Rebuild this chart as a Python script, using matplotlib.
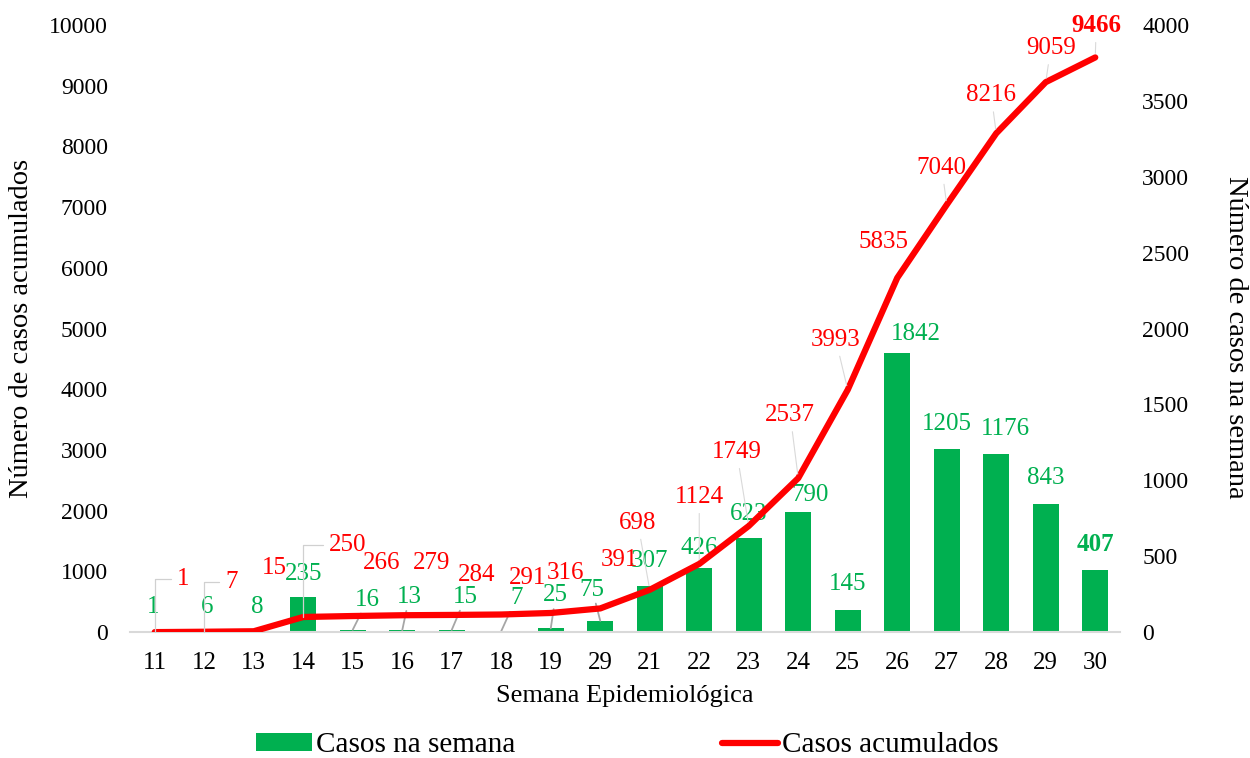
import matplotlib
matplotlib.use("Agg")
import matplotlib.pyplot as plt
from matplotlib.patches import Patch
from matplotlib.lines import Line2D

plt.rcParams['font.family'] = ['Liberation Serif', 'DejaVu Serif']

# data
semanas = ['11', '12', '13', '14', '15', '16', '17', '18', '19', '29',
           '21', '22', '23', '24', '25', '26', '27', '28', '29', '30']
casos_semana = [1, 6, 8, 235, 16, 13, 15, 7, 25, 75,
                307, 426, 623, 790, 145, 1842, 1205, 1176, 843, 407]
casos_acumulados = [1, 7, 15, 250, 266, 279, 284, 291, 316, 391,
                    698, 1124, 1749, 2537, 3993, 5835, 7040, 8216, 9059, 9466]

GREEN = '#00B050'
RED = '#FF0000'

# label offsets in pixels (dx, dy up) and leader style
off_red = [(28, 53), (27, 50), (21, 63), (44, 72), (29, 53), (29, 52), (25, 40),
           (26, 37), (15, 40), (19, 48), (-12, 67), (0, 67), (-12, 74), (-8, 63),
           (-12, 50), (-14, 36), (-5, 37), (-5, 38), (5, 34), (1, 32)]
lead_red = {0: 'elbow', 1: 'elbow', 3: 'elbow', 10: 'line', 11: 'line', 12: 'line',
            13: 'line', 14: 'line', 16: 'line', 17: 'line', 18: 'line', 19: 'line'}
off_green = [(-2, 25), (3, 24), (4, 24), (0, 23), (15, 30), (7, 33), (14, 33),
             (15, 33), (5, 33), (-8, 31), (0, 25), (0, 20), (0, 24), (12, 17),
             (0, 26), (19, 19), (0, 25), (9, 25), (0, 26), (0, 26)]
lead_green = [4, 5, 6, 7, 8, 9]

fig = plt.figure(figsize=(12.5, 7.58), dpi=100)
ax = fig.add_axes([0.104, 0.166, 0.792, 0.801])
ax2 = ax.twinx()

x = list(range(len(semanas)))

ax2.bar(x, casos_semana, width=0.53, color=GREEN)
ax.plot(x, casos_acumulados, color=RED, lw=4.5, solid_capstyle='round', zorder=3)

ax.set_zorder(ax2.get_zorder() + 1)
ax.patch.set_visible(False)

ax.set_xlim(-0.5, 19.5)
ax.set_ylim(0, 10000)
ax2.set_ylim(0, 4000)
ax.set_yticks(range(0, 10001, 1000))
ax2.set_yticks(range(0, 4001, 500))
ax.set_xticks(x)
ax.set_xticklabels(semanas)

for a in (ax, ax2):
    for s in a.spines.values():
        s.set_visible(False)
    a.tick_params(length=0, labelsize=17)
ax.spines['bottom'].set_visible(True)
ax.spines['bottom'].set_color('#D9D9D9')
ax.spines['bottom'].set_linewidth(1.5)
ax.tick_params(axis='x', pad=14, labelsize=18)
ax.tick_params(axis='y', pad=16)
ax2.tick_params(axis='y', pad=16)

ax.set_xlabel('Semana Epidemiológica', fontsize=19)
ax.xaxis.set_label_coords(0.5, -0.087)
ax.set_ylabel('Número de casos acumulados', fontsize=20.5)
ax.yaxis.set_label_coords(-0.097, 0.5)
ax2.set_ylabel('Número de casos na semana', fontsize=20.5, rotation=270, va='center')
ax2.yaxis.set_label_coords(1.117, 0.486)

# bar labels
for i, v in enumerate(casos_semana):
    bold = 'bold' if i == len(casos_semana) - 1 else 'normal'
    kw = {}
    if i in lead_green:
        kw['arrowprops'] = dict(arrowstyle='-', color='#A6A6A6', lw=1.3,
                                shrinkA=0, shrinkB=0)
    ax2.annotate(str(v), (i, v), xytext=off_green[i], textcoords='offset pixels',
                 ha='center', va='center', fontsize=18, color=GREEN,
                 fontweight=bold, zorder=5, **kw)

# line labels
for i, v in enumerate(casos_acumulados):
    bold = 'bold' if i == len(casos_acumulados) - 1 else 'normal'
    kw = {}
    if lead_red.get(i) == 'elbow':
        kw['arrowprops'] = dict(arrowstyle='-', color='#D0D0D0', lw=0.9,
                                shrinkA=2, shrinkB=0, relpos=(0, 0.5),
                                connectionstyle='angle,angleA=0,angleB=90,rad=0')
    elif lead_red.get(i) == 'line':
        kw['arrowprops'] = dict(arrowstyle='-', color='#D9D9D9', lw=0.8,
                                shrinkA=2, shrinkB=3)
    ax.annotate(str(v), (i, v), xytext=off_red[i], textcoords='offset pixels',
                ha='center', va='center', fontsize=18, color=RED,
                fontweight=bold, zorder=5, **kw)

handles = [Patch(facecolor=GREEN, label='Casos na semana'),
           Line2D([0], [0], color=RED, lw=4.5, solid_capstyle='round',
                  label='Casos acumulados')]
fig.legend(handles=handles, loc='center', bbox_to_anchor=(0.502, 0.017), ncol=2,
           frameon=False, fontsize=21, handlelength=1.9, handleheight=0.55,
           handletextpad=0.15, columnspacing=7.1)

fig.savefig('out.png', dpi=100)
